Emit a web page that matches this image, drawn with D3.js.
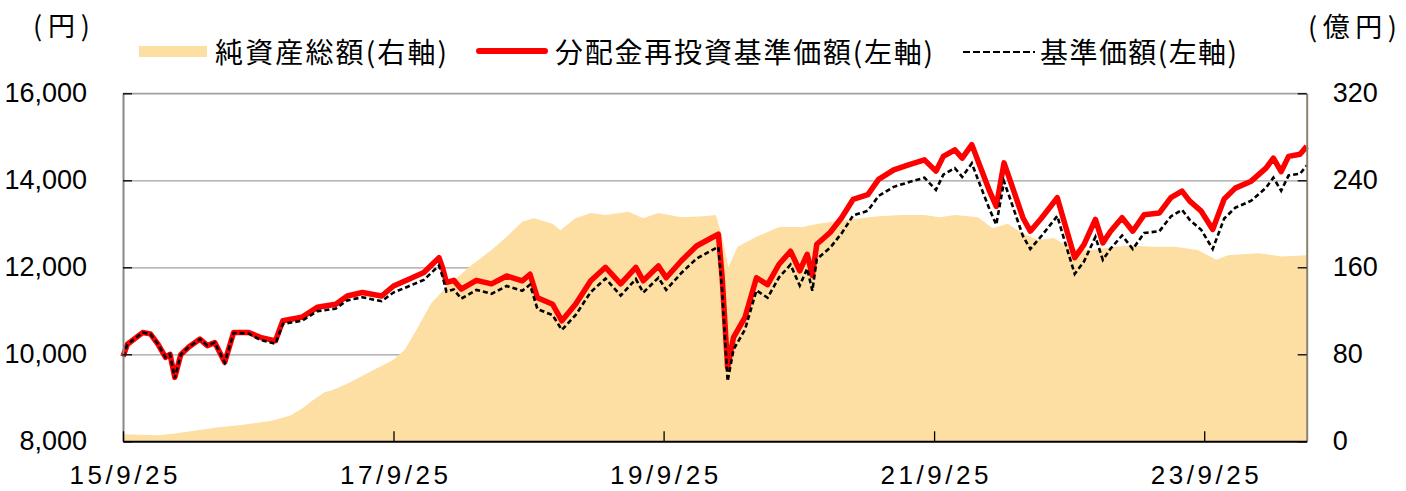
<!DOCTYPE html>
<html>
<head>
<meta charset="utf-8">
<script src="https://cdn.jsdelivr.net/npm/d3@7"></script>
<style>
  body { margin: 0; background: #fff; }
  text { fill: #000; }
</style>
</head>
<body>
<svg id="chart" width="1406" height="491"></svg>
<script>
// dates for the two price lines
var lineDates = ["2015-09-25","2015-10-07","2015-11-17","2015-12-08","2015-12-28","2016-01-18","2016-01-30","2016-02-12","2016-02-28","2016-03-20",
  "2016-04-20","2016-05-10","2016-05-30","2016-06-26","2016-07-20","2016-08-30","2016-09-30","2016-11-10","2016-11-30","2017-01-20",
  "2017-03-03","2017-04-22","2017-05-23","2017-07-03","2017-08-24","2017-09-25","2017-11-04","2017-12-16","2018-01-26","2018-02-05",
  "2018-02-15","2018-03-07","2018-03-27","2018-05-07","2018-06-17","2018-07-28","2018-09-08","2018-09-29","2018-10-19","2018-11-29",
  "2018-12-24","2019-01-30","2019-03-12","2019-04-21","2019-06-01","2019-07-12","2019-08-01","2019-09-11","2019-10-02","2019-11-12",
  "2019-12-23","2020-02-02","2020-02-20","2020-03-01","2020-03-16","2020-04-01","2020-05-02","2020-06-02","2020-07-02","2020-08-02",
  "2020-09-02","2020-09-27","2020-10-17","2020-10-31","2020-11-12","2020-12-18","2021-01-18","2021-02-18","2021-03-30","2021-04-28",
  "2021-06-08","2021-07-20","2021-08-30","2021-09-30","2021-10-20","2021-11-20","2021-12-10","2022-01-05","2022-01-22","2022-02-22",
  "2022-03-12","2022-04-02","2022-04-22","2022-05-23","2022-06-12","2022-07-13","2022-08-24","2022-09-14","2022-10-10","2022-11-04",
  "2022-12-05","2022-12-25","2023-01-15","2023-02-15","2023-03-16","2023-04-16","2023-05-27","2023-06-27","2023-07-27","2023-08-17",
  "2023-09-17","2023-10-18","2023-11-18","2023-12-18","2024-01-30","2024-03-10","2024-03-30","2024-04-20","2024-05-10","2024-06-10",
  "2024-06-28"];

// 分配金再投資基準価額 (円)
var navReinvest = [9950,10230,10500,10470,10240,9930,10000,9470,9990,10160,
  10350,10200,10270,9820,10500,10500,10390,10310,10770,10850,
  11080,11150,11340,11420,11340,11570,11720,11880,12220,11980,
  11650,11700,11500,11700,11620,11800,11690,11840,11300,11150,
  10770,11150,11690,12000,11620,12000,11690,12030,11760,12150,
  12490,12680,12760,11800,9700,10390,10850,11760,11600,12070,
  12370,11920,12300,11810,12530,12800,13140,13560,13670,14020,
  14240,14360,14470,14210,14550,14700,14510,14820,14440,13750,
  13400,14400,13910,13140,12830,13140,13600,12980,12220,12520,
  13100,12560,12830,13140,12830,13210,13250,13600,13750,13520,
  13290,12870,13570,13820,13980,14280,14510,14200,14550,14600,
  14780];

// 基準価額 (円)
var nav = [9950,10230,10500,10470,10240,9930,10000,9450,9990,10160,
  10350,10200,10270,9810,10490,10480,10330,10240,10700,10770,
  10990,11050,11240,11310,11220,11420,11560,11710,12040,11780,
  11440,11490,11280,11480,11390,11570,11460,11600,11040,10900,
  10560,10900,11430,11740,11350,11730,11420,11760,11480,11870,
  12200,12390,12470,11500,9380,10110,10570,11470,11300,11770,
  12060,11580,11970,11460,12190,12450,12780,13190,13300,13640,
  13850,13960,14060,13780,14130,14280,14080,14390,14010,13330,
  12980,13970,13490,12720,12420,12730,13180,12570,11850,12130,
  12700,12170,12430,12730,12420,12790,12830,13170,13320,13090,
  12860,12420,13120,13370,13530,13830,14060,13760,14110,14150,
  14340];

// 純資産総額 (億円)
var assetDates = ["2015-09-25","2015-12-28","2016-02-08","2016-04-09","2016-06-10","2016-08-10","2016-10-31","2016-12-22","2017-01-20","2017-02-20",
  "2017-03-23","2017-04-12","2017-05-23","2017-07-24","2017-09-25","2017-10-25","2017-11-25","2018-01-05","2018-02-15","2018-04-17",
  "2018-06-17","2018-07-28","2018-09-08","2018-10-09","2018-11-29","2018-12-20","2019-01-30","2019-03-12","2019-04-21","2019-06-22",
  "2019-08-01","2019-09-11","2019-11-12","2020-01-13","2020-02-13","2020-03-01","2020-03-18","2020-04-12","2020-06-02","2020-08-02",
  "2020-10-05","2020-11-16","2021-01-18","2021-03-10","2021-04-28","2021-06-29","2021-08-30","2021-10-10","2021-11-20","2022-01-22",
  "2022-03-02","2022-04-12","2022-05-23","2022-07-03","2022-08-14","2022-10-04","2022-11-25","2023-01-05","2023-03-06","2023-05-07",
  "2023-07-07","2023-09-07","2023-10-28","2023-11-28","2024-02-19","2024-04-20","2024-06-28"];
var netAssets = [6.4,5.5,7,10,13,15,19,24,30,38,
  45,47,53,64,75,84,102,127,142,160,
  176,188,202,205,200,194,205,210,208,211,
  205,210,206,207,208,188,160,179,188,197,
  197,200,203,205,207,208,208,206,208,206,
  196,200,191,185,187,177,176,178,180,179,
  179,176,167,171,173,170,171];

var leftTicks = [8000, 10000, 12000, 14000, 16000];
var rightTicks = [0, 80, 160, 240, 320];
var xTickDates = ["2015-09-25", "2017-09-25", "2019-09-25", "2021-09-25", "2023-09-25"];
var xTickLabels = ["15/9/25", "17/9/25", "19/9/25", "21/9/25", "23/9/25"];
var legendLabels = ["純資産総額(右軸)", "分配金再投資基準価額(左軸)", "基準価額(左軸)"];

var parse = d3.timeParse("%Y-%m-%d");
var W = 1406, H = 491;
var margin = { top: 93.3, right: 99.3, bottom: 49.7, left: 123 };
var w = W - margin.left - margin.right, h = H - margin.top - margin.bottom;
var jp = "'Noto Sans CJK JP', 'Noto Sans', sans-serif";
var num = "'Liberation Sans', Arial, sans-serif";

var svg = d3.select("#chart");
var g = svg.append("g").attr("transform", "translate(" + margin.left + "," + margin.top + ")");

var x = d3.scaleTime().domain([parse("2015-09-25"), parse("2024-06-28")]).range([0, w]);
var yL = d3.scaleLinear().domain([8000, 16000]).range([h, 0]);
var yR = d3.scaleLinear().domain([0, 320]).range([h, 0]);

// gridlines (behind the area)
g.append("g").attr("class", "grid")
  .call(d3.axisLeft(yL).tickValues(leftTicks.slice(1)).tickSize(-w).tickFormat(""))
  .call(function (s) {
    s.select(".domain").remove();
    s.selectAll("line").attr("stroke", "#a0a0a0").attr("stroke-width", 1.3);
  });

// net assets area (right axis)
var assets = assetDates.map(function (d, i) { return { date: parse(d), v: netAssets[i] }; });
g.append("path").datum(assets)
  .attr("fill", "#fddea3")
  .attr("d", d3.area().x(function (d) { return x(d.date); }).y0(h).y1(function (d) { return yR(d.v); }));

var prices = lineDates.map(function (d, i) { return { date: parse(d), r: navReinvest[i], n: nav[i] }; });

g.append("path").datum(prices)
  .attr("fill", "none").attr("stroke", "#ff0000").attr("stroke-width", 5.5)
  .attr("stroke-linejoin", "round")
  .attr("d", d3.line().x(function (d) { return x(d.date); }).y(function (d) { return yL(d.r); }));

g.append("path").datum(prices)
  .attr("fill", "none").attr("stroke", "#000").attr("stroke-width", 2.6)
  .attr("stroke-dasharray", "5,3")
  .attr("d", d3.line().x(function (d) { return x(d.date); }).y(function (d) { return yL(d.n); }));

// top border line
g.append("line").attr("x1", 0).attr("x2", w).attr("y1", 0).attr("y2", 0)
  .attr("stroke", "#a0a0a0").attr("stroke-width", 1.3);

// left axis
g.append("g")
  .call(d3.axisLeft(yL).tickValues(leftTicks).tickSize(-9).tickSizeOuter(0).tickPadding(36)
    .tickFormat(d3.format(",")))
  .call(function (s) {
    s.select(".domain").attr("stroke", "#888").attr("stroke-width", 2);
    s.selectAll("line").attr("stroke", "#000").attr("stroke-width", 1.3);
    s.selectAll("text").attr("font-family", num).attr("font-size", 27).attr("fill", "#000");
  });

// right axis
g.append("g").attr("transform", "translate(" + w + ",0)")
  .call(d3.axisRight(yR).tickValues(rightTicks).tickSize(-9).tickSizeOuter(0).tickPadding(26))
  .call(function (s) {
    s.select(".domain").attr("stroke", "#8a8070").attr("stroke-width", 2);
    s.selectAll("line").attr("stroke", "#000").attr("stroke-width", 1.3);
    s.selectAll("text").attr("font-family", num).attr("font-size", 27).attr("fill", "#000");
  });

// bottom axis
g.append("g").attr("transform", "translate(0," + h + ")")
  .call(d3.axisBottom(x).tickValues(xTickDates.map(parse)).tickSize(-10).tickSizeOuter(0)
    .tickFormat(function (d, i) { return xTickLabels[i]; }))
  .call(function (s) {
    s.select(".domain").attr("stroke", "#000").attr("stroke-width", 2);
    s.selectAll("line").attr("stroke", "#000").attr("stroke-width", 1.3);
    s.selectAll("text").attr("font-family", num).attr("font-size", 26).attr("fill", "#000")
      .attr("y", 43).attr("dy", 0)
      .attr("textLength", 108).attr("lengthAdjust", "spacing");
  });

// unit labels
svg.append("text").attr("x", 33).attr("y", 24).attr("dominant-baseline", "central")
  .attr("font-family", jp).attr("font-size", 27).attr("textLength", 57).attr("lengthAdjust", "spacing")
  .text("(円)");
svg.append("text").attr("x", 1308).attr("y", 25).attr("dominant-baseline", "central")
  .attr("font-family", jp).attr("font-size", 27).attr("textLength", 89).attr("lengthAdjust", "spacing")
  .text("(億円)");

// legend
var lg = svg.append("g");
lg.append("rect").attr("x", 139).attr("y", 46).attr("width", 68).attr("height", 11).attr("fill", "#fddea3");
lg.append("line").attr("x1", 479).attr("x2", 545).attr("y1", 51).attr("y2", 51)
  .attr("stroke", "#ff0000").attr("stroke-width", 6).attr("stroke-linecap", "round");
lg.append("line").attr("x1", 963).attr("x2", 1035).attr("y1", 52).attr("y2", 52)
  .attr("stroke", "#000").attr("stroke-width", 2).attr("stroke-dasharray", "7,3");
var legX = [215, 555, 1040], legW = [232, 378, 197];
legendLabels.forEach(function (t, i) {
  lg.append("text").attr("x", legX[i]).attr("y", 51).attr("dominant-baseline", "central")
    .attr("font-family", jp).attr("font-size", 28)
    .attr("textLength", legW[i]).attr("lengthAdjust", "spacing")
    .text(t);
});
</script>
</body>
</html>
